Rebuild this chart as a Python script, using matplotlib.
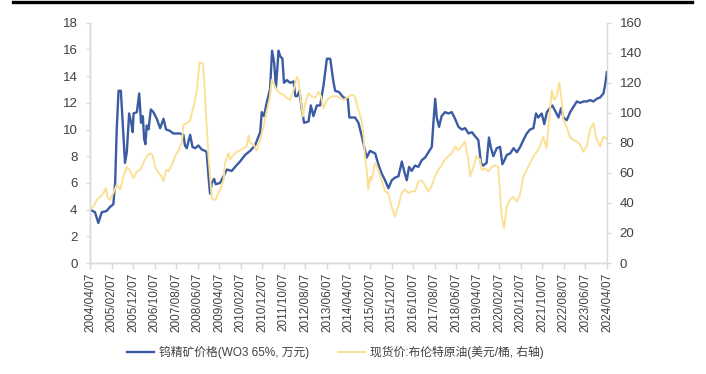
import matplotlib
matplotlib.use("Agg")
import matplotlib.pyplot as plt
from matplotlib.lines import Line2D

# ---------------- data ----------------
tick_labels = ["2004/04/07", "2005/02/07", "2005/12/07", "2006/10/07", "2007/08/07",
               "2008/06/07", "2009/04/07", "2010/02/07", "2010/12/07", "2011/10/07",
               "2012/08/07", "2013/06/07", "2014/04/07", "2015/02/07", "2015/12/07",
               "2016/10/07", "2017/08/07", "2018/06/07", "2019/04/07", "2020/02/07",
               "2020/12/07", "2021/10/07", "2022/08/07", "2023/06/07", "2024/04/07"]

# Tungsten concentrate price (WO3 65%, 10k CNY) — time in decimal years
w_t = [2004.27, 2004.46, 2004.59, 2004.72, 2004.91, 2005.04, 2005.17, 2005.24, 2005.30, 2005.37,
       2005.46, 2005.53, 2005.62, 2005.69, 2005.78, 2005.86, 2005.92, 2005.95, 2006.08, 2006.17,
       2006.24, 2006.31, 2006.36, 2006.41, 2006.46, 2006.53, 2006.62, 2006.72, 2006.85, 2006.98,
       2007.11, 2007.21, 2007.36, 2007.49, 2007.75, 2007.88, 2007.94, 2008.01, 2008.14, 2008.23,
       2008.33, 2008.46, 2008.59, 2008.72, 2008.78, 2008.85, 2008.91, 2008.98, 2009.07, 2009.13,
       2009.30, 2009.43, 2009.56, 2009.75, 2009.88, 2010.07, 2010.27, 2010.46, 2010.65, 2010.85,
       2010.91, 2011.00, 2011.10, 2011.23, 2011.31, 2011.39, 2011.46, 2011.56, 2011.62, 2011.71,
       2011.77, 2011.88, 2012.01, 2012.14, 2012.21, 2012.29, 2012.37, 2012.46, 2012.55, 2012.72,
       2012.81, 2012.91, 2013.04, 2013.17, 2013.30, 2013.43, 2013.56, 2013.68, 2013.75, 2013.90,
       2014.07, 2014.24, 2014.30, 2014.52, 2014.65, 2014.78, 2014.97, 2015.10, 2015.30, 2015.42,
       2015.55, 2015.68, 2015.81, 2015.94, 2016.07, 2016.20, 2016.33, 2016.43, 2016.52, 2016.61,
       2016.71, 2016.84, 2016.97, 2017.10, 2017.23, 2017.36, 2017.49, 2017.55, 2017.62, 2017.68,
       2017.77, 2017.87, 2018.00, 2018.13, 2018.26, 2018.39, 2018.52, 2018.65, 2018.78, 2018.91,
       2019.04, 2019.16, 2019.29, 2019.39, 2019.48, 2019.61, 2019.70, 2019.78, 2019.87, 2020.00,
       2020.13, 2020.22, 2020.30, 2020.39, 2020.52, 2020.65, 2020.78, 2020.91, 2021.03, 2021.16,
       2021.29, 2021.42, 2021.52, 2021.61, 2021.74, 2021.84, 2021.94, 2022.06, 2022.15, 2022.26,
       2022.39, 2022.49, 2022.58, 2022.71, 2022.84, 2022.97, 2023.10, 2023.23, 2023.36, 2023.48,
       2023.61, 2023.74, 2023.87, 2024.00, 2024.13, 2024.20, 2024.26]
w_v = [4.0, 3.8, 3.0, 3.8, 3.9, 4.2, 4.4, 6.0, 10.0, 12.9,
       12.9, 10.5, 7.5, 8.3, 11.2, 10.5, 9.8, 11.2, 11.3, 12.7,
       10.5, 11.0, 9.3, 8.9, 10.3, 10.0, 11.5, 11.3, 10.8, 10.1,
       10.8, 10.0, 9.9, 9.7, 9.7, 9.6, 8.8, 8.6, 9.6, 8.7,
       8.6, 8.8, 8.5, 8.4, 8.3, 6.5, 5.2, 6.0, 6.3, 5.9,
       6.0, 6.5, 7.0, 6.9, 7.2, 7.6, 8.1, 8.4, 8.8, 9.8,
       11.3, 11.0, 12.0, 13.0, 15.9, 15.0, 13.1, 15.9, 15.5, 15.3,
       13.5, 13.7, 13.5, 13.6, 12.5, 12.5, 12.9, 11.5, 10.5, 10.6,
       11.8, 11.0, 11.8, 11.8, 13.3, 15.3, 15.3, 13.6, 12.9, 12.8,
       12.4, 12.3, 10.9, 10.9, 10.5, 9.5, 7.9, 8.4, 8.2, 7.4,
       6.7, 6.2, 5.6, 6.2, 6.4, 6.5, 7.6, 6.8, 6.2, 7.2,
       6.9, 7.3, 7.2, 7.7, 7.9, 8.3, 8.7, 10.5, 12.3, 10.9,
       10.2, 11.0, 11.3, 11.2, 11.3, 10.8, 10.2, 10.0, 10.1, 9.7,
       9.8, 9.5, 9.2, 7.5, 7.3, 7.5, 9.4, 8.6, 8.0, 8.6,
       8.7, 7.4, 7.7, 8.1, 8.2, 8.6, 8.3, 8.7, 9.2, 9.7,
       10.0, 10.1, 11.2, 10.9, 11.2, 10.4, 11.3, 11.6, 11.8, 11.4,
       10.9, 11.6, 10.9, 10.7, 11.3, 11.7, 12.1, 12.0, 12.1, 12.1,
       12.2, 12.1, 12.3, 12.4, 12.7, 13.4, 14.3]

# Brent spot price (USD/bbl, right axis)
b_t = [2004.27, 2004.40, 2004.53, 2004.66, 2004.79, 2004.89, 2004.94, 2005.04, 2005.17, 2005.30,
       2005.43, 2005.56, 2005.69, 2005.82, 2005.95, 2006.08, 2006.21, 2006.33, 2006.46, 2006.59,
       2006.69, 2006.78, 2006.91, 2007.04, 2007.11, 2007.21, 2007.30, 2007.43, 2007.56, 2007.69,
       2007.82, 2007.88, 2008.01, 2008.14, 2008.27, 2008.40, 2008.50, 2008.63, 2008.69, 2008.75,
       2008.85, 2008.98, 2009.11, 2009.17, 2009.30, 2009.43, 2009.49, 2009.62, 2009.69, 2009.82,
       2009.94, 2010.07, 2010.20, 2010.33, 2010.40, 2010.46, 2010.59, 2010.72, 2010.85, 2010.98,
       2011.10, 2011.21, 2011.30, 2011.36, 2011.49, 2011.62, 2011.75, 2011.88, 2012.01, 2012.14,
       2012.27, 2012.33, 2012.42, 2012.50, 2012.59, 2012.72, 2012.85, 2012.98, 2013.11, 2013.20,
       2013.30, 2013.43, 2013.62, 2013.82, 2014.08, 2014.20, 2014.39, 2014.52, 2014.58, 2014.77,
       2014.84, 2014.90, 2014.97, 2015.03, 2015.10, 2015.16, 2015.29, 2015.42, 2015.55, 2015.68,
       2015.80, 2015.93, 2016.06, 2016.19, 2016.32, 2016.45, 2016.58, 2016.71, 2016.84, 2016.97,
       2017.10, 2017.22, 2017.35, 2017.48, 2017.61, 2017.74, 2017.87, 2018.00, 2018.13, 2018.26,
       2018.39, 2018.51, 2018.64, 2018.77, 2018.90, 2018.97, 2019.10, 2019.22, 2019.35, 2019.42,
       2019.55, 2019.68, 2019.80, 2019.93, 2020.06, 2020.13, 2020.19, 2020.28, 2020.39, 2020.51,
       2020.64, 2020.77, 2020.90, 2021.03, 2021.16, 2021.29, 2021.42, 2021.55, 2021.67, 2021.80,
       2021.93, 2022.04, 2022.13, 2022.22, 2022.32, 2022.42, 2022.51, 2022.58, 2022.70, 2022.83,
       2022.96, 2023.09, 2023.22, 2023.35, 2023.48, 2023.61, 2023.74, 2023.87, 2024.00, 2024.13,
       2024.25]
b_v = [35.5, 37.7, 42, 44, 46.6, 50, 44, 42, 46.6, 52,
       49, 57.6, 64, 61, 56.5, 61, 62, 66.5, 71, 73,
       72, 64, 60, 57.6, 54.3, 62, 61, 65, 71, 75,
       80, 92, 93, 95, 104, 115, 133.5, 133, 120, 100,
       71, 43, 42, 44, 49, 55, 66.5, 73, 69, 72,
       74, 75, 76.5, 77.6, 85, 80, 79, 75, 82, 91,
       101, 108.6, 122, 120, 115, 113, 112, 110, 108.6, 115,
       124, 122, 108.6, 97.5, 106, 113, 111, 110, 114, 111,
       103, 108.6, 111, 111, 108.6, 110, 112, 111, 106, 95,
       86.5, 71, 62, 49, 57.6, 55, 66.5, 62, 55, 47.7,
       46.6, 37.7, 31, 37.7, 46.6, 49, 46.6, 47.7, 47.7, 54.3,
       55, 52, 47.7, 51, 57.6, 62, 65, 69, 71, 73,
       77.6, 75, 77.6, 81, 69, 57.6, 64, 71, 69, 62,
       63, 61, 64, 65, 64, 46.6, 31, 23, 37.7, 42,
       44, 41, 45.5, 57.6, 62, 66.5, 71, 74, 77.6, 84,
       76.5, 97.5, 115, 108.6, 111, 120, 108.6, 95, 91, 84,
       82, 81, 79, 74, 77.6, 88.7, 93, 82, 77.6, 84,
       83]

w_label = "钨精矿价格(WO3 65%, 万元)"
b_label = "现货价:布伦特原油(美元/桶, 右轴)"


def to_year(s):
    y, m, d = (int(p) for p in s.split("/"))
    return y + (m - 1) / 12 + (d - 1) / 365


tick_pos = [to_year(s) for s in tick_labels]

# ---------------- style ----------------
FONT = ["Liberation Sans", "Noto Sans CJK SC", "DejaVu Sans"]
plt.rcParams["font.family"] = FONT
BLUE = "#3B5BA3"
YELLOW = "#FBE196"
AXC = "#D9D9D9"
TXT = "#404040"

fig = plt.figure(figsize=(7.06, 3.74), dpi=100)
ax = fig.add_axes([90 / 706, 1 - 263 / 374, (607 - 90) / 706, (263 - 22.7) / 374])
ax2 = ax.twinx()

l1, = ax.plot(w_t, w_v, color=BLUE, lw=1.7, zorder=3)
l2, = ax2.plot(b_t, b_v, color=YELLOW, lw=1.4, zorder=2)

ax.set_xlim(tick_pos[0], tick_pos[-1])
ax.set_ylim(0, 18)
ax.set_yticks(range(0, 19, 2))
ax2.set_ylim(0, 160)
ax2.set_yticks(range(0, 161, 20))

ax.set_xticks(tick_pos)
ax.set_xticklabels(tick_labels, rotation=90, fontsize=8.5, color=TXT)

for a in (ax, ax2):
    for s in a.spines.values():
        s.set_color(AXC)
        s.set_linewidth(1.0)
    a.spines["top"].set_visible(False)
    a.tick_params(axis="both", colors=AXC, labelcolor=TXT, length=3, width=1.0)
ax.tick_params(axis="y", labelsize=9.5, pad=6)
ax2.tick_params(axis="y", labelsize=9.5, pad=6)
ax.tick_params(axis="x", length=4, pad=3)
ax.spines["right"].set_visible(False)

fig.legend([l1, l2], [w_label, b_label], loc="center", bbox_to_anchor=(0.475, 1 - 352 / 374),
           ncol=2, frameon=False, fontsize=8.5, handlelength=2.3, columnspacing=2.4,
           handletextpad=0.4, labelcolor=TXT)

# top rule of the source document
fig.add_artist(Line2D([13 / 706, 692 / 706], [1 - 2 / 374, 1 - 2 / 374], transform=fig.transFigure,
                      color="black", lw=2.4))

fig.savefig("out.png", dpi=100)
